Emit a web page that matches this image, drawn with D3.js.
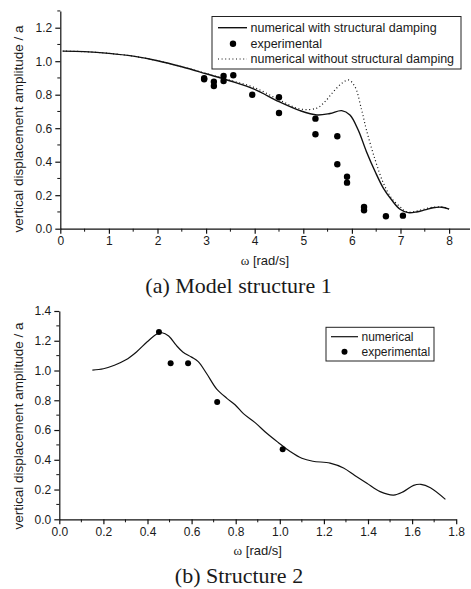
<!DOCTYPE html>
<html>
<head>
<meta charset="utf-8">
<script src="https://cdn.jsdelivr.net/npm/d3@7"></script>
<style>
  html, body { margin: 0; padding: 0; background: #fff; }
  svg { display: block; }
  text { font-family: "Liberation Sans", Arial, sans-serif; fill: #1a1a1a; }
</style>
</head>
<body>
<svg id="chart" width="471" height="589"></svg>
<script>
// ---- Data: Model structure 1 ----
const a_dampX = [0.05,0.5,1,1.5,2,2.5,3,3.5,4,4.5,4.93,5.28,5.55,5.79,5.96,6.13,6.30,6.48,6.65,6.82,6.99,7.16,7.33,7.5,7.67,7.85,8.0];
const a_dampY = [1.06,1.057,1.047,1.03,1.003,0.967,0.925,0.882,0.832,0.758,0.705,0.679,0.688,0.705,0.679,0.589,0.46,0.34,0.241,0.171,0.116,0.096,0.10,0.112,0.125,0.128,0.117];
const a_noDampX = [0.05,0.5,1,1.5,2,2.5,3,3.5,4,4.5,4.93,5.28,5.45,5.62,5.8,5.93,6.06,6.2,6.3,6.48,6.65,6.82,6.99,7.13,7.33,7.5,7.67,7.85,8.0];
const a_noDampY = [1.06,1.057,1.047,1.03,1.003,0.967,0.926,0.886,0.842,0.77,0.715,0.72,0.76,0.818,0.87,0.888,0.85,0.709,0.589,0.41,0.271,0.181,0.131,0.10,0.105,0.118,0.128,0.13,0.118];
const a_expX = [2.96,2.96,3.16,3.16,3.36,3.36,3.56,3.95,4.5,4.5,5.25,5.25,5.7,5.7,5.9,5.9,6.25,6.25,6.7,7.05];
const a_expY = [0.898,0.892,0.878,0.852,0.912,0.882,0.916,0.80,0.785,0.691,0.657,0.564,0.552,0.385,0.31,0.275,0.13,0.11,0.074,0.078];
const a_xTicks = [0,1,2,3,4,5,6,7,8];
const a_yTicks = [0,0.2,0.4,0.6,0.8,1.0,1.2];
const a_legend = ["numerical with structural damping","experimental","numerical without structural damping"];

// ---- Data: Structure 2 ----
const b_numX = [0.15,0.2,0.25,0.3,0.35,0.4,0.443,0.466,0.496,0.53,0.56,0.6,0.63,0.668,0.714,0.76,0.797,0.835,0.888,0.941,0.994,1.047,1.1,1.15,1.228,1.289,1.34,1.395,1.455,1.516,1.561,1.607,1.64,1.683,1.751];
const b_numY = [1.003,1.012,1.035,1.07,1.125,1.195,1.245,1.254,1.232,1.17,1.125,1.09,1.06,0.98,0.875,0.813,0.77,0.71,0.65,0.578,0.515,0.456,0.41,0.39,0.378,0.345,0.295,0.242,0.186,0.163,0.186,0.228,0.235,0.212,0.134];
const b_expX = [0.452,0.505,0.584,0.716,1.013];
const b_expY = [1.259,1.048,1.048,0.788,0.470];
const b_xTicks = [0,0.2,0.4,0.6,0.8,1.0,1.2,1.4,1.6,1.8];
const b_yTicks = [0,0.2,0.4,0.6,0.8,1.0,1.2,1.4];
const b_legend = ["numerical","experimental"];

const svg = d3.select("#chart");

function drawAxes(g, x, y, xTicks, xMinor, yTicks, yMinor, xFmt, yFmt, yLabelCenter, xLabelY) {
  const y0 = y.range()[0];
  const x0 = x.range()[0];
  g.append("g").selectAll("line").data(xMinor).join("line")
    .attr("x1", d => x(d)).attr("x2", d => x(d))
    .attr("y1", y0).attr("y2", y0 + 3).attr("stroke", "#111").attr("stroke-width", 1);
  g.append("g").selectAll("line").data(yMinor).join("line")
    .attr("y1", d => y(d)).attr("y2", d => y(d))
    .attr("x1", x0).attr("x2", x0 - 3).attr("stroke", "#111").attr("stroke-width", 1);
  const xa = g.append("g").attr("transform", `translate(0,${y0})`)
    .call(d3.axisBottom(x).tickValues(xTicks).tickFormat(xFmt).tickSize(5).tickSizeOuter(0).tickPadding(3));
  const ya = g.append("g").attr("transform", `translate(${x0},0)`)
    .call(d3.axisLeft(y).tickValues(yTicks).tickFormat(yFmt).tickSize(5).tickSizeOuter(0).tickPadding(3));
  [xa, ya].forEach(a => {
    a.selectAll("text").style("font-family", '"Liberation Sans", Arial, sans-serif').style("font-size", "12px").attr("fill", "#1a1a1a");
    a.selectAll("line,path").attr("stroke", "#111").attr("stroke-width", 1.2);
  });
  g.append("text")
    .attr("transform", `translate(18,${yLabelCenter}) rotate(-90)`)
    .attr("text-anchor", "middle").attr("dy", "0.35em")
    .style("font-size", "13.5px")
    .text("vertical displacement amplitude / a");
  const xl = g.append("text").attr("x", (x.range()[0] + x.range()[1]) / 2).attr("y", xLabelY)
    .attr("text-anchor", "middle").style("font-size", "13px");
  xl.append("tspan").style("font-family", '"Liberation Serif", serif').style("font-size", "13px").text("ω");
  xl.append("tspan").text(" [rad/s]");
}

// ================= Chart (a) =================
{
  const g = svg.append("g");
  const x = d3.scaleLinear().domain([0, 8.42]).range([60.3, 469.5]);
  const y = d3.scaleLinear().domain([0, 1.3]).range([228.7, 10.95]);
  const xMinor = d3.range(0.5, 8.4, 1);
  const yMinor = d3.range(0.1, 1.31, 0.2);
  drawAxes(g, x, y, a_xTicks, xMinor, a_yTicks, yMinor, d3.format("d"), d3.format(".1f"), 129, 265);

  const line = d3.line().curve(d3.curveCatmullRom.alpha(0.5));
  g.append("path").attr("d", line(a_noDampX.map((d, i) => [x(d), y(a_noDampY[i])])))
    .attr("fill", "none").attr("stroke", "#111").attr("stroke-width", 1.2).attr("stroke-dasharray", "1,2.6");
  g.append("path").attr("d", line(a_dampX.map((d, i) => [x(d), y(a_dampY[i])])))
    .attr("fill", "none").attr("stroke", "#111").attr("stroke-width", 1.4);
  g.append("g").selectAll("circle").data(a_expX).join("circle")
    .attr("cx", d => x(d)).attr("cy", (d, i) => y(a_expY[i])).attr("r", 3.2).attr("fill", "#000");

  const lx = 212, ly = 16.5, lw = 249, lh = 52.5;
  g.append("rect").attr("x", lx).attr("y", ly).attr("width", lw).attr("height", lh)
    .attr("fill", "#fff").attr("stroke", "#222").attr("stroke-width", 1);
  const rows = [27.7, 43.7, 59];
  g.append("line").attr("x1", 218).attr("x2", 247).attr("y1", rows[0]).attr("y2", rows[0]).attr("stroke", "#111").attr("stroke-width", 1.4);
  g.append("circle").attr("cx", 233).attr("cy", rows[1]).attr("r", 3.2).attr("fill", "#000");
  g.append("line").attr("x1", 218).attr("x2", 247).attr("y1", rows[2]).attr("y2", rows[2]).attr("stroke", "#111").attr("stroke-width", 1.2).attr("stroke-dasharray", "1,2.6");
  a_legend.forEach((t, i) => {
    g.append("text").attr("x", 250.5).attr("y", rows[i]).attr("dy", "0.35em").style("font-size", "12.5px").text(t);
  });

  g.append("text").attr("x", 238.5).attr("y", 293).attr("text-anchor", "middle")
    .style("font-family", '"Liberation Serif", "Times New Roman", serif').style("font-size", "22px")
    .text("(a) Model structure 1");
}

// ================= Chart (b) =================
{
  const g = svg.append("g");
  const x = d3.scaleLinear().domain([0, 1.8]).range([59.3, 456.2]);
  const y = d3.scaleLinear().domain([0, 1.4]).range([519.3, 311]);
  const xMinor = d3.range(0.1, 1.8, 0.2);
  const yMinor = d3.range(0.1, 1.4, 0.2);
  drawAxes(g, x, y, b_xTicks, xMinor, b_yTicks, yMinor, d3.format(".1f"), d3.format(".1f"), 426, 555);

  const line = d3.line().curve(d3.curveCatmullRom.alpha(0.5));
  g.append("path").attr("d", line(b_numX.map((d, i) => [x(d), y(b_numY[i])])))
    .attr("fill", "none").attr("stroke", "#111").attr("stroke-width", 1.2);
  g.append("g").selectAll("circle").data(b_expX).join("circle")
    .attr("cx", d => x(d)).attr("cy", (d, i) => y(b_expY[i])).attr("r", 3).attr("fill", "#000");

  g.append("rect").attr("x", 326).attr("y", 327.3).attr("width", 108).attr("height", 33.7)
    .attr("fill", "#fff").attr("stroke", "#222").attr("stroke-width", 1);
  const rows = [336.7, 351.7];
  g.append("line").attr("x1", 331).attr("x2", 358).attr("y1", rows[0]).attr("y2", rows[0]).attr("stroke", "#111").attr("stroke-width", 1.2);
  g.append("circle").attr("cx", 344.5).attr("cy", rows[1]).attr("r", 3).attr("fill", "#000");
  b_legend.forEach((t, i) => {
    g.append("text").attr("x", 361.5).attr("y", rows[i]).attr("dy", "0.35em").style("font-size", "12px").text(t);
  });

  g.append("text").attr("x", 239).attr("y", 583).attr("text-anchor", "middle")
    .style("font-family", '"Liberation Serif", "Times New Roman", serif').style("font-size", "22px")
    .text("(b) Structure 2");
}
</script>
</body>
</html>
